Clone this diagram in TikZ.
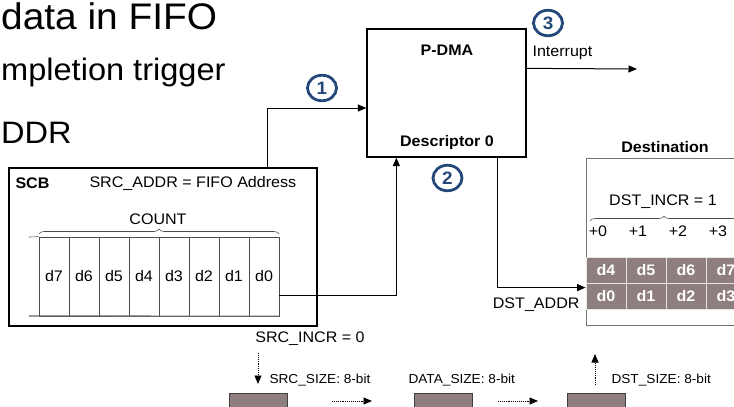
\documentclass[tikz,border=0pt]{standalone}
\usepackage{fontspec}
\setmainfont{Liberation Sans}[FakeStretch=1.05]
\usetikzlibrary{arrows.meta,positioning,calc,shapes.geometric,decorations.pathreplacing}
\definecolor{numblue}{HTML}{24487A}
\definecolor{cellbrown}{HTML}{8E7E7D}

\begin{document}
\begin{tikzpicture}[x=1pt,y=-1pt,font=\fontsize{15.3}{17}\selectfont,>={Triangle[length=8.5pt,width=7pt]},
 num/.style={ellipse,draw=numblue,line width=2.8pt,text=numblue,font=\bfseries\fontsize{18}{19}\selectfont,minimum width=29pt,minimum height=25.5pt,inner sep=0pt},
 fifo/.style={draw=black!70,line width=.6pt,minimum width=30pt,minimum height=79pt,inner sep=0pt},
 cell/.style={fill=cellbrown,draw=white!80!cellbrown,line width=.8pt,minimum width=40pt,minimum height=26pt,inner sep=0pt,text=white,font=\bfseries\fontsize{15.3}{17}\selectfont},
 blk/.style={fill=cellbrown,draw=black!75,line width=.8pt,minimum width=58pt,minimum height=30pt},
 small/.style={font=\fontsize{13}{15}\selectfont},
 big/.style={font=\fontsize{37}{42}\selectfont,inner sep=0pt},
 mid/.style={font=\fontsize{31}{36}\selectfont,inner sep=0pt},
 brc/.style={decorate,decoration={brace,amplitude=5pt},draw=black!70,line width=.6pt},
 dotarr/.style={->,densely dotted,line width=.9pt}]
\useasboundingbox (0,0) rectangle (734,407);
\clip (0,0) rectangle (734,407);
% slide text
\node[big,anchor=base west] (t1) at (1,29) {data in FIFO};
\node[mid,anchor=base west] (t2) at (1,80) {mpletion trigger};
\node[mid,anchor=base west] (t3) at (1,143) {DDR};
% P-DMA
\node[draw,line width=1.3pt,minimum width=159pt,minimum height=128pt] (dma) at (446.5,93) {};
\node[font=\bfseries\fontsize{15.3}{17}\selectfont] (dmat) at (447,50) {P-DMA};
\node[font=\bfseries\fontsize{15.3}{17}\selectfont] (desc) at (447,143) {Descriptor 0};
\coordinate (irq) at (637,69);
\draw[->,line width=1pt] ([yshift=-40pt]dma.north east) -- (irq);
\node[anchor=west] (irqt) at (529,53) {Interrupt};
\node[num] (n1) at (322,88) {1};
\node[num] (n2) at (447.5,178) {2};
\node[num] (n3) at (548,23) {3};
% SCB and FIFO
\node[draw,line width=1.3pt,minimum width=308pt,minimum height=158pt] (scb) at (163,247) {};
\node[anchor=west,font=\bfseries\fontsize{15.3}{17}\selectfont] (scbt) at (12,183) {SCB};
\node[anchor=west] (srca) at (86,183) {SRC\_ADDR = FIFO Address};
\node (cnt) at (158,219) {COUNT};
\draw[brc] (39,234) -- (279,234);
\foreach \k in {0,...,7}{\node[fifo] (f\k) at (264-30*\k,276.5) {d\k};}
\draw[black!70,line width=.6pt] (29,237) -- (f7.north west);
\draw[black!60,line width=1.3pt] (29,316) -- (f0.south east);
% destination
\node[draw=black!55,line width=.8pt,minimum width=164pt,minimum height=167pt] (dst) at (668,241.5) {};
\node[font=\bfseries\fontsize{15.3}{17}\selectfont] (dstt) at (665,147) {Destination};
\node (dinc) at (663,202) {DST\_INCR = 1};
\draw[brc] (590,221) -- (738,221);
\foreach \i [evaluate=\i as \j using int(\i+4)] in {0,...,3}{
  \node (o\i) at (598+40*\i,231) {+\i};
  \node[cell] (u\i) at (606+40*\i,270) {d\j};
  \node[cell] (r\i) at (606+40*\i,296) {d\i};
}
\node[anchor=east] (dadr) at (583,305) {DST\_ADDR};
% connectors
\draw[->,line width=1pt] ([xshift=-50pt]scb.north east) |- ([yshift=-15pt]dma.west);
\draw[->,line width=1pt] ([yshift=-19pt]f0.east) -| ([xshift=30pt]dma.south west);
\draw[->,line width=1pt] ([xshift=-29pt]dma.south east) |- ([yshift=-5pt]r0.north west);
% element sizes
\node (sinc) at (310,339) {SRC\_INCR = 0};
\node[blk] (b1) at (258,408) {};
\node[blk] (b2) at (443,408) {};
\node[blk] (b3) at (596,408) {};
\node[small,anchor=west] (ssz) at (266,380) {SRC\_SIZE: 8-bit};
\node[small,anchor=west] (dsz) at (405,380) {DATA\_SIZE: 8-bit};
\node[small,anchor=west] (tsz) at (608,380) {DST\_SIZE: 8-bit};
\coordinate (s0) at (258,353); \coordinate (s1) at (258,384);
\coordinate (p0) at (332,401); \coordinate (p1) at (372,401);
\coordinate (q0) at (498,401); \coordinate (q1) at (538,401);
\coordinate (e0) at (595,385); \coordinate (e1) at (595,354);
\draw[dotarr] (s0) -- (s1);
\draw[dotarr] (p0) -- (p1);
\draw[dotarr] (q0) -- (q1);
\draw[dotarr] (e0) -- (e1);
\end{tikzpicture}
\end{document}
